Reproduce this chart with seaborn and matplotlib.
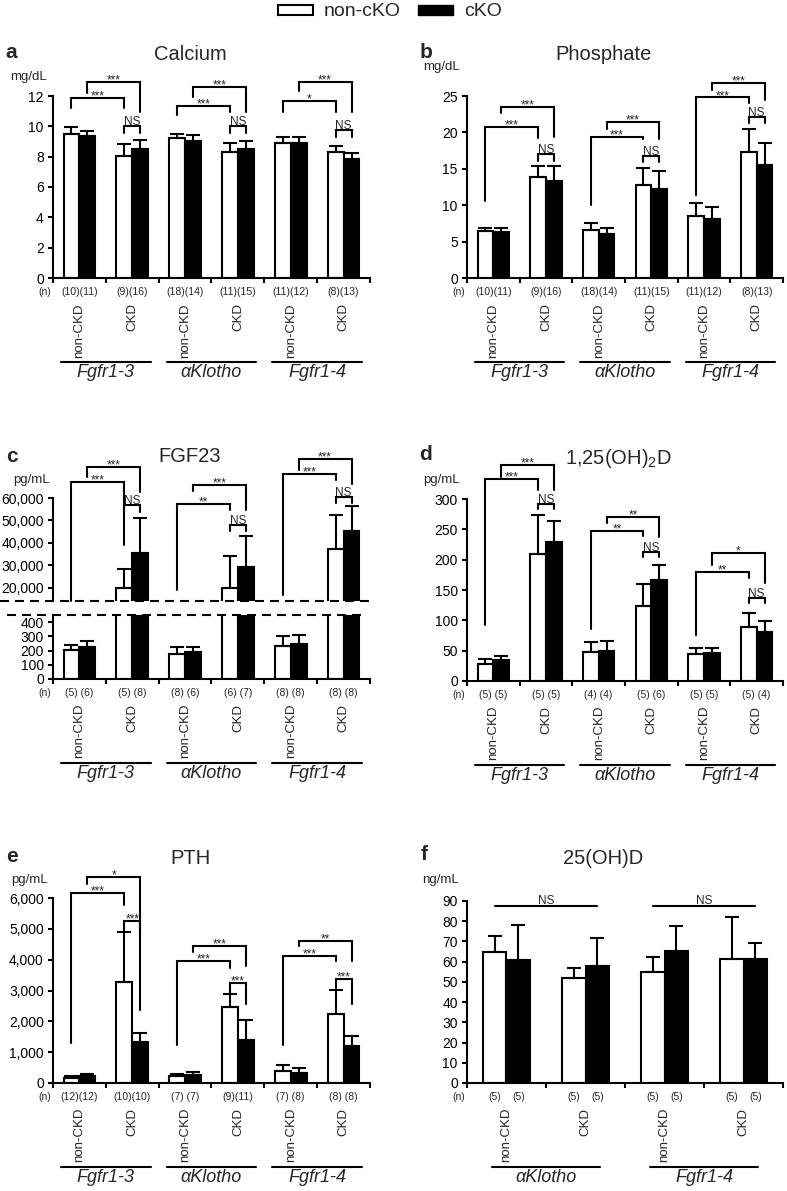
import numpy as np
import pandas as pd
import seaborn as sns
import matplotlib.pyplot as plt
from matplotlib import transforms
from matplotlib.patches import Patch
from matplotlib.ticker import FuncFormatter

genes = ['Fgfr1-3', 'αKlotho', 'Fgfr1-4']
genes_f = ['αKlotho', 'Fgfr1-4']
kidney = ['non-CKD', 'CKD']
genotypes = ['non-cKO', 'cKO']
conds = [f'{g} {k}' for g in genes for k in kidney]
conds_f = [f'{g} {k}' for g in genes_f for k in kidney]

# a: calcium (mg/dL)
ca_wt = [9.47, 8.07, 9.21, 8.31, 8.90, 8.29]
ca_wt_err = [0.46, 0.77, 0.31, 0.57, 0.38, 0.42]
ca_ko = [9.36, 8.53, 9.01, 8.53, 8.88, 7.85]
ca_ko_err = [0.35, 0.57, 0.40, 0.48, 0.40, 0.42]
n_ab_wt = [10, 9, 18, 11, 11, 8]
n_ab_ko = [11, 16, 14, 15, 12, 13]

# b: phosphate (mg/dL)
pi_wt = [6.40, 13.94, 6.54, 12.84, 8.50, 17.28]
pi_wt_err = [0.46, 1.51, 1.00, 2.24, 1.78, 3.15]
pi_ko = [6.31, 13.39, 6.08, 12.29, 8.09, 15.54]
pi_ko_err = [0.50, 2.06, 0.78, 2.47, 1.64, 2.97]

# c: FGF23 (pg/mL)
fgf_wt = [206, 19600, 178, 20000, 229, 37100]
fgf_wt_err = [35, 8900, 44, 14300, 75, 15500]
fgf_ko = [222, 35600, 189, 29200, 246, 45300]
fgf_ko_err = [42, 15600, 33, 13700, 65, 11000]
n_c_wt = [5, 5, 8, 6, 8, 8]
n_c_ko = [6, 8, 6, 7, 8, 8]

# d: 1,25(OH)2D (pg/mL)
vd_wt = [27.5, 209, 47.9, 123.3, 44.0, 89.2]
vd_wt_err = [9.4, 64.6, 16.5, 37.4, 10.5, 23.6]
vd_ko = [34.1, 229.5, 49.0, 166.2, 46.2, 80.9]
vd_ko_err = [6.6, 34.7, 17.0, 24.8, 8.3, 18.1]
n_d_wt = [5, 5, 4, 5, 5, 5]
n_d_ko = [5, 5, 4, 6, 5, 4]

# e: PTH (pg/mL)
pth_wt = [151, 3276, 216, 2465, 378, 2238]
pth_wt_err = [87, 1621, 87, 421, 217, 789]
pth_ko = [216, 1319, 270, 1384, 324, 1189]
pth_ko_err = [87, 303, 87, 670, 162, 346]
n_e_wt = [12, 10, 7, 9, 7, 8]
n_e_ko = [12, 10, 7, 11, 8, 8]

# f: 25(OH)D (ng/mL)
d25_wt = [64.8, 52.1, 54.7, 61.5]
d25_wt_err = [8.1, 4.6, 7.8, 20.7]
d25_ko = [60.8, 57.9, 65.4, 61.5]
d25_ko_err = [17.5, 13.8, 12.4, 7.7]
n_f_wt = [5, 5, 5, 5]
n_f_ko = [5, 5, 5, 5]

sns.set_style('ticks')
plt.rcParams['font.family'] = ['Liberation Sans', 'DejaVu Sans']
plt.rcParams['mathtext.fontset'] = 'custom'
plt.rcParams['mathtext.rm'] = 'Liberation Sans'
plt.rcParams['axes.edgecolor'] = 'black'
plt.rcParams['xtick.color'] = 'black'
plt.rcParams['ytick.color'] = 'black'

W, H = 787, 1191
fig = plt.figure(figsize=(W / 100, H / 100), dpi=100)
fig.patch.set_facecolor('white')


def rect(l, r, t, b):
    return [l / W, 1 - b / H, (r - l) / W, (b - t) / H]


def ftext(x, y, s, **kw):
    fig.text(x / W, 1 - y / H, s, ha='center', va='center', **kw)


def below(ax, dx, dy):
    return transforms.offset_copy(ax.get_xaxis_transform(), fig=fig, x=dx, y=-dy, units='dots')


def draw_bars(ax, cats, wt, ko, wt_err, ko_err):
    df = pd.DataFrame({'cond': cats * 2,
                       'genotype': ['non-cKO'] * len(cats) + ['cKO'] * len(cats),
                       'value': list(wt) + list(ko)})
    sns.barplot(data=df, x='cond', y='value', hue='genotype', order=cats, hue_order=genotypes,
                palette={'non-cKO': 'white', 'cKO': 'black'}, saturation=1,
                edgecolor='black', linewidth=1.5, width=0.6, errorbar=None, legend=False, ax=ax)
    xs = [np.array([b.get_x() + b.get_width() / 2 for b in c]) for c in ax.containers]
    for x, m, e in zip(xs, [wt, ko], [wt_err, ko_err]):
        ax.errorbar(x, m, yerr=[np.zeros(len(m)), e], fmt='none', ecolor='black',
                    elinewidth=1.5, capsize=5, capthick=1.5, zorder=3)
    return xs


def style(ax, ncat, ylim, yticks, comma=False):
    ax.set_xlim(-0.5, ncat - 0.5)
    ax.set_ylim(*ylim)
    ax.set_xticks(np.arange(ncat + 1) - 0.5, labels=[''] * (ncat + 1))
    ax.set_yticks(yticks)
    if comma:
        ax.yaxis.set_major_formatter(FuncFormatter(lambda v, p: f'{int(v):,}'))
    ax.set_xlabel('')
    ax.set_ylabel('')
    sns.despine(ax=ax)
    ax.tick_params(direction='out', length=3.6, width=1.5, labelsize=10, pad=3)
    for s in ax.spines.values():
        s.set_linewidth(1.5)


def xlabels(ax, xs, n_wt, n_ko, gene_names, inset=0.15, split=False):
    ax.text(-0.5, 0, '(n)', transform=below(ax, -2, 14), ha='right', va='center', fontsize=7.5)
    for i in range(len(n_wt)):
        if split:
            ax.text(xs[0][i], 0, f'({n_wt[i]})', transform=below(ax, 0, 14), ha='center',
                    va='center', fontsize=7.5)
            ax.text(xs[1][i], 0, f'({n_ko[i]})', transform=below(ax, 0, 14), ha='center',
                    va='center', fontsize=7.5)
        else:
            sep = ' ' if n_wt[i] < 10 and n_ko[i] < 10 else ''
            ax.text(i, 0, f'({n_wt[i]}){sep}({n_ko[i]})', transform=below(ax, 0, 14),
                    ha='center', va='center', fontsize=7.5)
        ax.text(i, 0, kidney[i % 2], transform=below(ax, 0, 25), rotation=90,
                ha='center', va='top', fontsize=9.5)
    for g, name in enumerate(gene_names):
        ax.plot([2 * g - 0.5 + inset, 2 * g + 1.5 - inset], [0, 0], transform=below(ax, 0, 84),
                color='black', lw=1.5, clip_on=False)
        ax.text(2 * g + 0.5, 0, name, transform=below(ax, 0, 86), ha='center', va='top',
                fontsize=13, style='italic')


def bracket(ax, xl, xr, top, lb, rb, label):
    ax.plot([xl, xl, xr, xr], [lb, top, top, rb], color='black', lw=1.5, clip_on=False,
            solid_joinstyle='miter', zorder=4)
    off = 1 if label == 'NS' else -1.5
    ax.annotate(label, xy=((xl + xr) / 2, top), xytext=(0, off), textcoords='offset pixels',
                ha='center', va='baseline', fontsize=8.5, annotation_clip=False)


def brackets(ax, xs, specs, labels):
    wx, kx = xs
    for g, (s, lab) in enumerate(zip(specs, labels)):
        t1, l1, r1, t2, l2, r2, t3, l3, r3 = s
        a, b = 2 * g, 2 * g + 1
        bracket(ax, wx[a], wx[b], t1, l1, r1, lab[0])
        bracket(ax, kx[a], kx[b], t2, l2, r2, lab[1])
        bracket(ax, wx[b], kx[b], t3, l3, r3, lab[2])


# ---- a Calcium
ax = fig.add_axes(rect(53, 370, 96, 278))
xs = draw_bars(ax, conds, ca_wt, ca_ko, ca_wt_err, ca_ko_err)
style(ax, 6, (0, 12), range(0, 13, 2))
xlabels(ax, xs, n_ab_wt, n_ab_ko, genes)
brackets(ax, xs,
         [(11.9, 11.18, 11.18, 12.94, 12.17, 10.96, 10.02, 9.58, 9.58),
          (11.36, 10.75, 10.96, 12.61, 11.95, 10.96, 10.02, 9.58, 9.58),
          (11.69, 10.96, 10.96, 12.94, 12.35, 10.96, 9.76, 9.32, 9.32)],
         [('***', '***', 'NS'), ('***', '***', 'NS'), ('*', '***', 'NS')])

# ---- b Phosphate
ax = fig.add_axes(rect(467, 783, 96, 278))
xs = draw_bars(ax, conds, pi_wt, pi_ko, pi_wt_err, pi_ko_err)
style(ax, 6, (0, 25), range(0, 26, 5))
xlabels(ax, xs, n_ab_wt, n_ab_ko, genes)
brackets(ax, xs,
         [(20.7, 10.6, 19.2, 23.54, 22.71, 19.3, 17.05, 16.1, 16.1),
          (19.42, 10.05, 19.06, 21.39, 20.43, 19.06, 16.73, 16.0, 16.0),
          (24.8, 11.43, 24.0, 26.74, 25.82, 24.45, 22.07, 21.25, 21.25)],
         [('***', '***', 'NS')] * 3)

# ---- c FGF23 (broken axis)
axt = fig.add_axes(rect(53, 370, 498, 601))
xs = draw_bars(axt, conds, fgf_wt, fgf_ko, fgf_wt_err, fgf_ko_err)
style(axt, 6, (14000, 60000), range(20000, 60001, 10000), comma=True)
axt.spines['bottom'].set_visible(False)
axt.tick_params(axis='x', bottom=False, labelbottom=False)
brackets(axt, xs,
         [(67140, 14000, 38900, 73830, 69370, 62680, 56730, 53750, 53750),
          (57470, 19100, 54500, 65650, 63120, 54500, 47800, 45280, 45280),
          (70860, 16600, 67880, 77550, 72340, 66400, 60450, 57770, 57770)],
         [('***', '***', 'NS'), ('**', '***', 'NS'), ('***', '***', 'NS')])
axb = fig.add_axes(rect(53, 370, 615, 679))
xs = draw_bars(axb, conds, fgf_wt, fgf_ko, fgf_wt_err, fgf_ko_err)
style(axb, 6, (0, 450), range(0, 401, 100))
xlabels(axb, xs, n_c_wt, n_c_ko, genes)
dash = (0, (4.3, 2.9))
axt.plot([-53 / 317, 1 + 2 / 317], [0, 0], transform=axt.transAxes, ls=dash, lw=1.5,
         color='black', clip_on=False)
axb.plot([-46 / 317, 1 - 3 / 317], [1, 1], transform=axb.transAxes, ls=dash, lw=1.5,
         color='black', clip_on=False)

# ---- d 1,25(OH)2D
ax = fig.add_axes(rect(467, 783, 499, 681))
xs = draw_bars(ax, conds, vd_wt, vd_ko, vd_wt_err, vd_ko_err)
style(ax, 6, (0, 300), range(0, 301, 50))
xlabels(ax, xs, n_d_wt, n_d_ko, genes)
brackets(ax, xs,
         [(332.5, 91.9, 315, 356, 337, 315, 292, 283, 283),
          (247.7, 86.4, 238.9, 270.8, 261, 237.8, 213, 203.7, 203.7),
          (180, 75.4, 169, 210.3, 192, 161.8, 137, 128.8, 128.8)],
         [('***', '***', 'NS'), ('**', '**', 'NS'), ('**', '*', 'NS')])

# ---- e PTH
ax = fig.add_axes(rect(53, 370, 898, 1083))
xs = draw_bars(ax, conds, pth_wt, pth_ko, pth_wt_err, pth_ko_err)
style(ax, 6, (0, 6000), range(0, 6001, 1000), comma=True)
xlabels(ax, xs, n_e_wt, n_e_ko, genes)
brackets(ax, xs,
         [(6162, 1297, 5784, 6670, 6464, 2378, 5243, 4919, 4919),
          (3946, 1243, 3730, 4432, 4238, 3784, 3243, 2919, 2573),
          (4108, 1243, 3946, 4594, 4432, 3946, 3384, 3081, 2573)],
         [('***', '*', '***'), ('***', '***', '***'), ('***', '**', '***')])

# ---- f 25(OH)D
ax = fig.add_axes(rect(467, 783, 901, 1083))
xs = draw_bars(ax, conds_f, d25_wt, d25_ko, d25_wt_err, d25_ko_err)
style(ax, 4, (0, 90), range(0, 91, 10))
xlabels(ax, xs, n_f_wt, n_f_ko, genes_f, inset=0.32, split=True)
for g in range(2):
    xl, xr = xs[0][2 * g], xs[1][2 * g + 1]
    ax.plot([xl, xr], [87.4, 87.4], color='black', lw=1.5, clip_on=False)
    ax.annotate('NS', xy=((xl + xr) / 2, 87.4), xytext=(0, 2), textcoords='offset pixels',
                ha='center', va='baseline', fontsize=8.5, annotation_clip=False)

# ---- titles, panel letters, units
for x, y, s in [(190, 55, 'Calcium'), (604, 55, 'Phosphate'), (190, 457, 'FGF23'),
                (618, 458, '1,25(OH)$_2$D'), (190, 858, 'PTH'), (603, 859, '25(OH)D')]:
    ftext(x, y, s, fontsize=14.5)
for x, y, s in [(11, 53, 'a'), (426, 52, 'b'), (12, 457, 'c'), (426, 454, 'd'),
                (12, 856, 'e'), (424, 854, 'f')]:
    ftext(x, y, s, fontsize=15, fontweight='bold')
for x, y, s in [(29, 77, 'mg/dL'), (442, 67, 'mg/dL'), (31, 480, 'pg/mL'), (441, 480, 'pg/mL'),
                (29, 880, 'pg/mL'), (441, 880, 'ng/mL')]:
    ftext(x, y, s, fontsize=9.5)

handles = [Patch(facecolor='white', edgecolor='black', linewidth=1.5),
           Patch(facecolor='black', edgecolor='black')]
fig.legend(handles, genotypes, loc='center', bbox_to_anchor=(390 / W, 1 - 12 / H), ncol=2,
           frameon=False, fontsize=14, handlelength=1.8, handleheight=0.42,
           handletextpad=0.55, columnspacing=0.9)

fig.savefig('out.png', dpi=100, facecolor='white')
